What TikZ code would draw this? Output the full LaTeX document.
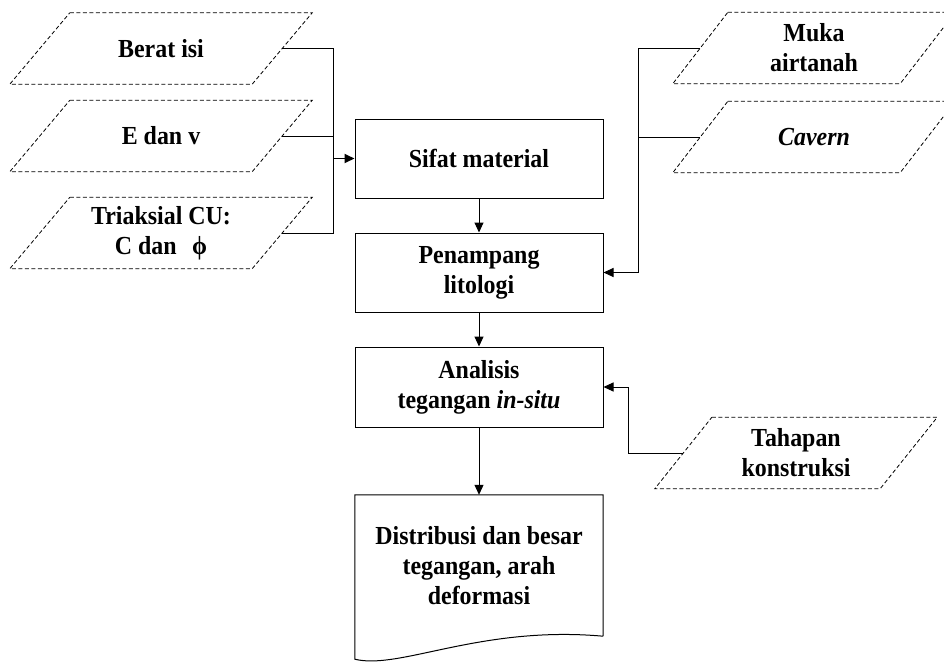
\documentclass[tikz,border=0pt]{standalone}
\usepackage{fontspec}
\setmainfont{Liberation Serif}[FakeStretch=0.92]
\usetikzlibrary{arrows.meta}
\begin{document}
\begin{tikzpicture}[x=1pt,y=-1pt,
  txt/.style={font=\fontsize{26}{30}\selectfont\bfseries, align=center, inner sep=0pt},
  io/.style={txt, minimum height=71pt},
  proc/.style={txt, draw, line width=1pt, minimum width=248pt},
  flow/.style={line width=1pt, -{Triangle[length=10pt,width=9pt]}},
  link/.style={line width=1pt},
  dashbox/.style={line width=0.8pt, dash pattern=on 4pt off 2.5pt}]
\clip (0,0) rectangle (944,664);
\useasboundingbox (0,0) rectangle (944,664);
% input parallelograms (text part)
\node[io, minimum width=242pt] (berat) at (161,48.5) {Berat isi};
\node[io, minimum width=242pt] (edanv) at (161,136) {E dan v};
\node[io, minimum width=242pt] (triaks) at (161,233) {Triaksial CU:\\C dan\hspace{0.6em}ϕ};
\node[io, minimum width=227pt] (muka) at (814,48) {Muka\\airtanah};
\node[io, minimum width=227pt] (cavern) at (814,137) {\itshape Cavern};
\node[io, minimum width=225pt] (tahapan) at (796,453) {Tahapan\\konstruksi};
\foreach \n/\s in {berat/30,edanv/30,triaks/30,muka/27.5,cavern/27.5,tahapan/28.5}
  \draw[dashbox] ([xshift=\s pt]\n.north west) -- ([xshift=\s pt]\n.north east)
    -- ([xshift=-\s pt]\n.south east) -- ([xshift=-\s pt]\n.south west) -- cycle;
% process boxes
\node[proc, minimum height=79pt] (sifat) at (479,158.5) {Sifat material};
\node[proc, minimum height=79pt] (penampang) at (479,272.5) {Penampang\\litologi};
\node[proc, minimum height=80pt] (analisis) at (479,387) {Analisis\\tegangan \textit{in-situ}};
\node[txt, minimum width=248pt, minimum height=141pt] (doc) at (479,565.5) {Distribusi dan besar\\tegangan, arah\\deformasi};
\draw[line width=1pt] (doc.south east) -- (doc.north east) -- (doc.north west)
  -- ([yshift=-23pt]doc.south west) .. controls +(45,11) and +(-123,-11) .. (doc.south east);
% connectors
\coordinate (jl) at (333,158.5);
\draw[link] (berat.east) -| (jl);
\draw[link] (edanv.east) -| (jl);
\draw[link] (triaks.east) -| (jl);
\draw[flow, line width=1.8pt] (jl) -- (sifat.west);
\draw[flow] (sifat.south) -- (penampang.north);
\coordinate (jr) at (638,272.5);
\draw[link] (muka.west) -| (jr);
\draw[link] (cavern.west) -| (jr);
\draw[flow] (jr) -- (penampang.east);
\coordinate (jt) at (628,387);
\draw[flow] (tahapan.west) -| (jt) -- (analisis.east);
\draw[flow] (penampang.south) -- (analisis.north);
\draw[flow] (analisis.south) -- (doc.north);
\end{tikzpicture}
\end{document}
